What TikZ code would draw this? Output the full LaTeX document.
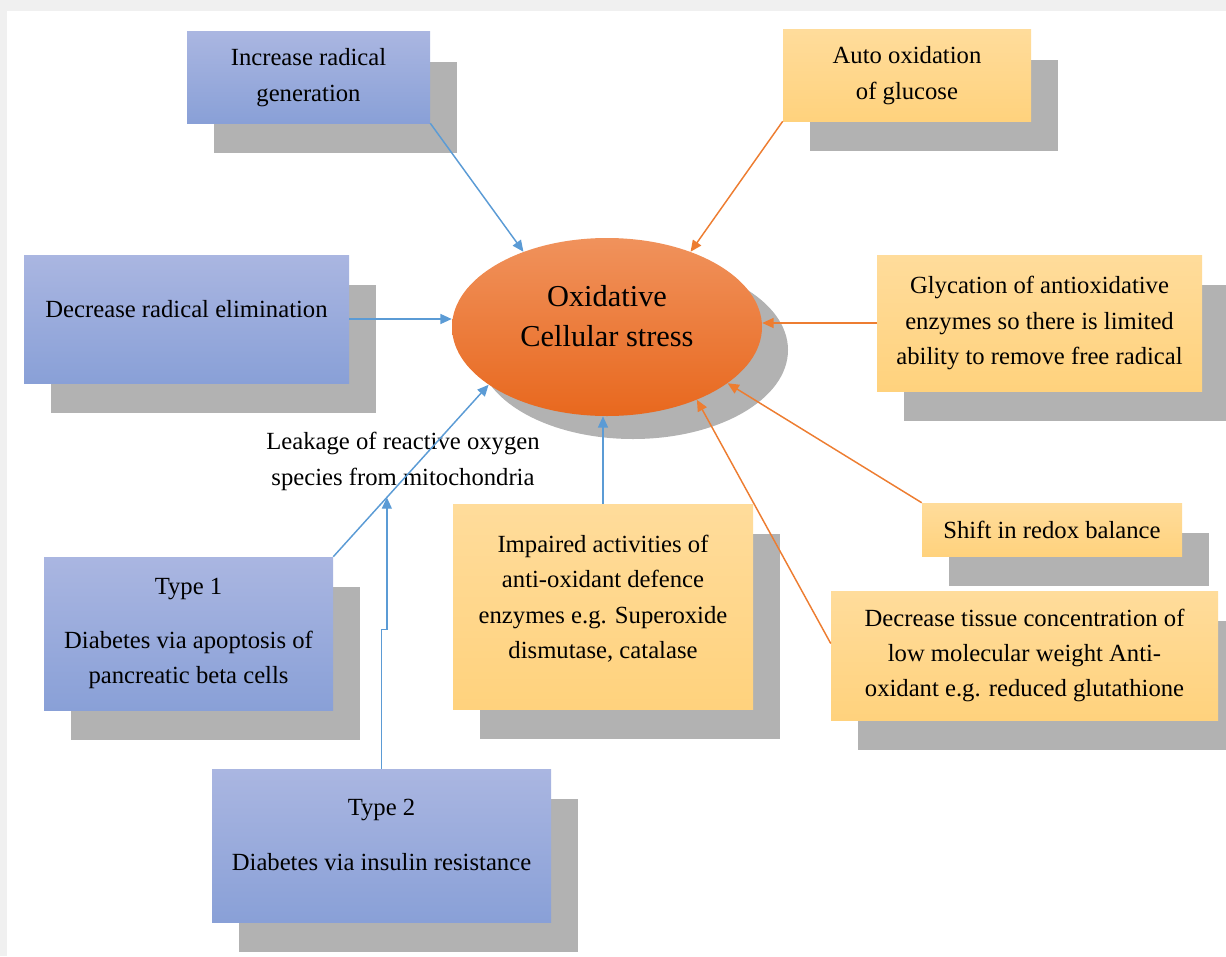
\documentclass[tikz,border=0pt]{standalone}
\usepackage{fontspec}
\setmainfont{Liberation Serif}
\usetikzlibrary{arrows.meta,shapes.geometric,calc,backgrounds}
\definecolor{CAUSE-TOP}{RGB}{170,182,225}
\definecolor{CAUSE-BOT}{RGB}{137,160,215}
\definecolor{EFFECT-TOP}{RGB}{255,220,155}
\definecolor{EFFECT-BOT}{RGB}{255,210,125}
\definecolor{STRESS-TOP}{RGB}{240,146,92}
\definecolor{STRESS-BOT}{RGB}{232,104,30}
\definecolor{SHADOW-GRAY}{RGB}{178,178,178}
\definecolor{FRAME-GRAY}{RGB}{240,240,240}
\definecolor{LINK-BLUE}{RGB}{91,155,213}
\definecolor{LINK-ORANGE}{RGB}{237,125,49}

\begin{document}
\begin{tikzpicture}[x=0.75pt,y=-0.75pt,
  causebox/.style={rectangle, inner sep=0pt, align=center, top color=CAUSE-TOP, bottom color=CAUSE-BOT, font=\fontsize{18.5}{26.5}\selectfont},
  effectbox/.style={rectangle, inner sep=0pt, align=center, top color=EFFECT-TOP, bottom color=EFFECT-BOT, font=\fontsize{18.5}{26.5}\selectfont},
  bluelink/.style={-{Triangle[length=8.5pt,width=7.5pt]}, LINK-BLUE, line width=1.1pt},
  orangelink/.style={-{Triangle[length=8.5pt,width=7.5pt]}, LINK-ORANGE, line width=1.1pt}]
  \useasboundingbox (0,0) rectangle (1226,956);

  % Page frame
  \fill[FRAME-GRAY] (0,0) rectangle (1226,11);
  \fill[FRAME-GRAY] (0,0) rectangle (7,956);

  % Central ellipse
  \node[ellipse, inner sep=0pt, minimum width=232.5pt, minimum height=133.5pt, align=center,
        top color=STRESS-TOP, bottom color=STRESS-BOT, font=\fontsize{22.8}{30.5}\selectfont]
    (stress) at (607,327) {Oxidative\\Cellular stress\\[-14pt]\mbox{}};

  % Causes (blue)
  \node[causebox, minimum width=182.25pt, minimum height=68.25pt] (incrgen) at (308.5,77.5) {Increase radical\\generation};
  \node[causebox, minimum width=243.75pt, minimum height=96pt] (decrelim) at (186.5,319) {Decrease radical elimination\\[-11.5pt]\mbox{}};
  \node[causebox, minimum width=216.75pt, minimum height=114.75pt] (typeone) at (188.5,633.5) {Type 1\\[13.5pt]Diabetes via apoptosis of\\pancreatic beta cells};
  \node[causebox, minimum width=254.25pt, minimum height=114.75pt] (typetwo) at (381.5,845.5) {Type 2\\[15pt]Diabetes via insulin resistance\\[-10pt]\mbox{}};

  % Effects (orange)
  \node[effectbox, minimum width=186pt, minimum height=68.25pt] (autoox) at (907,75.5) {Auto oxidation\\of glucose};
  \node[effectbox, minimum width=243.75pt, minimum height=102pt] (glycation) at (1039.5,323) {Glycation of antioxidative\\enzymes so there is limited\\ability to remove free radical};
  \node[effectbox, minimum width=195pt, minimum height=39.75pt] (redox) at (1052,529.5) {Shift in redox balance};
  \node[effectbox, minimum width=290.25pt, minimum height=96.75pt] (tissue) at (1024.5,655.5) {Decrease tissue concentration of\\low molecular weight Anti-\\oxidant e.g. reduced glutathione};
  \node[effectbox, minimum width=225pt, minimum height=153.75pt] (impaired) at (603,606.5) {Impaired activities of\\anti-oxidant defence\\enzymes e.g. Superoxide\\dismutase, catalase\\[-12pt]\mbox{}};

  % Label on the type 1 link
  \node[align=center, font=\fontsize{18.5}{27}\selectfont] (leakage) at (403,461) {Leakage of reactive oxygen\\species from mitochondria};

  % Shadows behind everything
  \begin{scope}[on background layer]
    \foreach \n in {incrgen,decrelim,typeone,typetwo,autoox,glycation,redox,tissue,impaired}
      \fill[SHADOW-GRAY] ($(\n.south west)+(27,30)$) rectangle ($(\n.north east)+(27,30)$);
    \fill[SHADOW-GRAY] ($(stress.center)+(26,23)$) ellipse [x radius=155, y radius=89];
  \end{scope}

  % Blue links
  \draw[bluelink] (incrgen.south east) -- (stress.138);
  \draw[bluelink] (decrelim.east) -- (decrelim.east -| stress.west);
  \draw[bluelink] (typeone.north east) -- coordinate[pos=0.345] (leakjoin) (stress.206);
  \draw[bluelink] (typetwo.north) -- ++(0,-139) -| (leakjoin);
  \draw[bluelink] (impaired.north) -- (impaired.north |- stress.south);

  % Orange links
  \draw[orangelink] (autoox.south west) -- (stress.42);
  \draw[orangelink] (glycation.west) -- (glycation.west -| stress.east);
  \draw[orangelink] (redox.north west) -- (stress.-25);
  \draw[orangelink] ([yshift=9pt]tissue.west) -- (stress.-39);
\end{tikzpicture}
\end{document}
